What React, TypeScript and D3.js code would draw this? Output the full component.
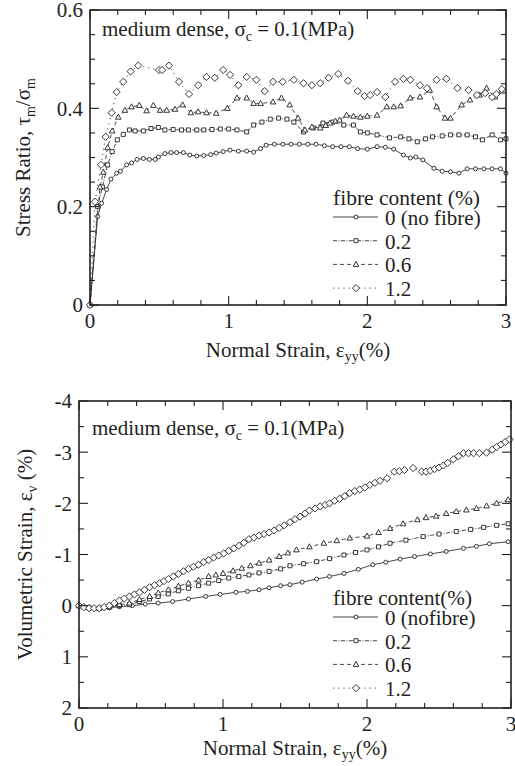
import React from 'react';
import * as d3 from 'd3';

type Pt = [number, number];

// ---- top panel: normal strain (%) vs stress ratio ----
const ratioFibre0: Pt[] = [
  [0, 0], [0.055, 0.18], [0.084, 0.207], [0.12, 0.235], [0.151, 0.256], [0.192, 0.268], [0.22, 0.272],
  [0.264, 0.285], [0.3, 0.289], [0.34, 0.296], [0.385, 0.298], [0.428, 0.296], [0.47, 0.296], [0.493, 0.301],
  [0.54, 0.308], [0.584, 0.31], [0.625, 0.31], [0.673, 0.31], [0.72, 0.305], [0.77, 0.303], [0.82, 0.304],
  [0.87, 0.306], [0.91, 0.309], [0.96, 0.312], [1.01, 0.315], [1.07, 0.313], [1.13, 0.313], [1.18, 0.311],
  [1.23, 0.318], [1.27, 0.325], [1.33, 0.327], [1.39, 0.327], [1.45, 0.327], [1.51, 0.327], [1.57, 0.327],
  [1.63, 0.327], [1.69, 0.324], [1.75, 0.322], [1.81, 0.322], [1.87, 0.322], [1.93, 0.318], [2.0, 0.317],
  [2.07, 0.322], [2.13, 0.321], [2.19, 0.317], [2.26, 0.305], [2.31, 0.299], [2.35, 0.301], [2.4, 0.295],
  [2.48, 0.278], [2.54, 0.272], [2.6, 0.271], [2.66, 0.268], [2.72, 0.277], [2.78, 0.277], [2.84, 0.277],
  [2.9, 0.277], [2.96, 0.277], [3.0, 0.268],
];
const ratioFibre02: Pt[] = [
  [0, 0], [0.055, 0.2], [0.089, 0.24], [0.127, 0.285], [0.16, 0.312], [0.197, 0.336], [0.24, 0.347],
  [0.284, 0.356], [0.325, 0.354], [0.385, 0.354], [0.44, 0.359], [0.493, 0.361], [0.54, 0.356], [0.6, 0.357],
  [0.66, 0.356], [0.71, 0.356], [0.77, 0.356], [0.82, 0.356], [0.88, 0.357], [0.94, 0.358], [1.0, 0.358],
  [1.06, 0.356], [1.13, 0.352], [1.18, 0.366], [1.24, 0.372], [1.3, 0.378], [1.36, 0.38], [1.42, 0.378],
  [1.47, 0.372], [1.54, 0.352], [1.61, 0.36], [1.68, 0.37], [1.75, 0.372], [1.83, 0.366], [1.9, 0.366],
  [1.95, 0.352], [2.0, 0.35], [2.07, 0.346], [2.16, 0.34], [2.24, 0.342], [2.3, 0.338], [2.36, 0.332],
  [2.42, 0.338], [2.47, 0.342], [2.54, 0.344], [2.6, 0.346], [2.66, 0.346], [2.72, 0.346], [2.78, 0.342],
  [2.83, 0.336], [2.9, 0.346], [2.96, 0.336], [3.0, 0.338],
];
const ratioFibre06: Pt[] = [
  [0, 0], [0.072, 0.24], [0.096, 0.27], [0.127, 0.32], [0.16, 0.354], [0.204, 0.382], [0.252, 0.396],
  [0.3, 0.403], [0.355, 0.406], [0.408, 0.395], [0.457, 0.406], [0.505, 0.396], [0.553, 0.396], [0.613, 0.398],
  [0.668, 0.407], [0.728, 0.391], [0.78, 0.393], [0.84, 0.391], [0.91, 0.39], [0.99, 0.4], [1.06, 0.421],
  [1.13, 0.421], [1.18, 0.41], [1.23, 0.41], [1.32, 0.413], [1.38, 0.421], [1.44, 0.407], [1.5, 0.38],
  [1.55, 0.356], [1.6, 0.362], [1.66, 0.36], [1.7, 0.365], [1.73, 0.37], [1.77, 0.374], [1.8, 0.376],
  [1.85, 0.386], [1.9, 0.384], [1.95, 0.382], [2.0, 0.384], [2.07, 0.386], [2.14, 0.403], [2.19, 0.403],
  [2.24, 0.405], [2.31, 0.421], [2.38, 0.423], [2.45, 0.437], [2.5, 0.403], [2.56, 0.38], [2.6, 0.38],
  [2.68, 0.407], [2.74, 0.417], [2.81, 0.427], [2.86, 0.441], [2.92, 0.423], [2.97, 0.435],
];
const ratioFibre12: Pt[] = [
  [0, 0], [0.036, 0.21], [0.079, 0.285], [0.113, 0.342], [0.156, 0.391], [0.192, 0.433], [0.24, 0.454],
  [0.293, 0.475], [0.348, 0.487], [0.497, 0.478], [0.52, 0.478], [0.57, 0.487], [0.642, 0.454], [0.714, 0.429],
  [0.78, 0.447], [0.84, 0.464], [0.9, 0.462], [0.96, 0.478], [1.01, 0.468], [1.07, 0.447], [1.13, 0.464],
  [1.2, 0.458], [1.26, 0.435], [1.32, 0.454], [1.39, 0.454], [1.47, 0.458], [1.54, 0.451], [1.6, 0.447],
  [1.66, 0.451], [1.72, 0.462], [1.79, 0.47], [1.86, 0.456], [1.93, 0.435], [1.98, 0.425], [2.02, 0.427],
  [2.07, 0.433], [2.13, 0.423], [2.2, 0.454], [2.26, 0.46], [2.31, 0.458], [2.38, 0.447], [2.43, 0.441],
  [2.5, 0.458], [2.57, 0.46], [2.65, 0.441], [2.73, 0.437], [2.79, 0.427], [2.85, 0.431], [2.9, 0.423],
  [2.93, 0.429], [2.97, 0.439],
];

// ---- bottom panel: normal strain (%) vs volumetric strain (%) ----
const volFibre0: Pt[] = [
  [0, 0], [0.07, 0.04], [0.14, 0.05], [0.21, 0.04], [0.28, 0.02], [0.37, 0.0], [0.46, -0.03], [0.55, -0.05],
  [0.65, -0.08], [0.76, -0.13], [0.88, -0.18], [0.98, -0.22], [1.09, -0.26], [1.17, -0.28], [1.25, -0.31],
  [1.32, -0.35], [1.4, -0.39], [1.465, -0.41], [1.55, -0.46], [1.65, -0.52], [1.74, -0.57], [1.84, -0.63],
  [1.94, -0.71], [2.04, -0.8], [2.13, -0.85], [2.23, -0.91], [2.33, -0.96], [2.44, -1.01], [2.55, -1.06],
  [2.67, -1.12], [2.76, -1.16], [2.85, -1.21], [2.98, -1.25],
];
const volFibre02: Pt[] = [
  [0, 0], [0.07, 0.04], [0.14, 0.05], [0.21, 0.03], [0.28, 0.0], [0.35, -0.02], [0.42, -0.08], [0.49, -0.13],
  [0.55, -0.18], [0.62, -0.23], [0.69, -0.29], [0.76, -0.34], [0.83, -0.39], [0.9, -0.44], [0.97, -0.49],
  [1.04, -0.54], [1.11, -0.57], [1.18, -0.6], [1.25, -0.64], [1.32, -0.67], [1.4, -0.72], [1.465, -0.78],
  [1.56, -0.82], [1.65, -0.86], [1.74, -0.92], [1.84, -0.99], [1.92, -1.04], [2.0, -1.09], [2.08, -1.15],
  [2.16, -1.22], [2.27, -1.28], [2.39, -1.35], [2.5, -1.4], [2.62, -1.45], [2.72, -1.49], [2.81, -1.53],
  [2.9, -1.57], [2.98, -1.6],
];
const volFibre06: Pt[] = [
  [0, 0], [0.07, 0.04], [0.14, 0.05], [0.21, 0.02], [0.28, -0.02], [0.35, -0.05], [0.42, -0.12], [0.49, -0.18],
  [0.55, -0.25], [0.62, -0.31], [0.69, -0.38], [0.76, -0.44], [0.83, -0.5], [0.9, -0.57], [0.95, -0.6],
  [1.0, -0.63], [1.07, -0.68], [1.13, -0.73], [1.19, -0.78], [1.25, -0.83], [1.32, -0.89], [1.39, -0.96],
  [1.45, -1.03], [1.51, -1.09], [1.6, -1.15], [1.7, -1.22], [1.79, -1.27], [1.88, -1.32], [2.0, -1.36],
  [2.08, -1.43], [2.16, -1.51], [2.25, -1.6], [2.35, -1.68], [2.41, -1.72], [2.48, -1.75], [2.55, -1.8],
  [2.62, -1.84], [2.69, -1.87], [2.76, -1.9], [2.83, -1.95], [2.9, -2.0], [2.98, -2.07],
];
const volFibre12: Pt[] = [
  [0, 0], [0.035, 0.03], [0.07, 0.05], [0.105, 0.05], [0.14, 0.05], [0.175, 0.03], [0.21, 0.0], [0.245, -0.05],
  [0.28, -0.1], [0.315, -0.14], [0.35, -0.18], [0.385, -0.22], [0.42, -0.26], [0.455, -0.31], [0.49, -0.36],
  [0.525, -0.4], [0.56, -0.44], [0.59, -0.48], [0.62, -0.52], [0.655, -0.57], [0.69, -0.62], [0.725, -0.67],
  [0.76, -0.72], [0.795, -0.76], [0.83, -0.8], [0.865, -0.85], [0.9, -0.89], [0.935, -0.94], [0.97, -0.98],
  [1.005, -1.02], [1.04, -1.07], [1.075, -1.12], [1.11, -1.17], [1.145, -1.23], [1.18, -1.3], [1.215, -1.33],
  [1.25, -1.37], [1.285, -1.4], [1.32, -1.43], [1.355, -1.47], [1.39, -1.52], [1.425, -1.57], [1.465, -1.63],
  [1.5, -1.69], [1.535, -1.74], [1.57, -1.8], [1.6, -1.86], [1.64, -1.9], [1.675, -1.94], [1.71, -1.97],
  [1.74, -2.0], [1.775, -2.05], [1.81, -2.09], [1.845, -2.14], [1.88, -2.2], [1.915, -2.24], [1.95, -2.27],
  [1.985, -2.31], [2.02, -2.36], [2.055, -2.4], [2.09, -2.44], [2.14, -2.49], [2.19, -2.62], [2.225, -2.63],
  [2.26, -2.65], [2.32, -2.69], [2.38, -2.62], [2.41, -2.62], [2.44, -2.64], [2.47, -2.67], [2.5, -2.7],
  [2.53, -2.74], [2.56, -2.79], [2.6, -2.86], [2.635, -2.92], [2.67, -2.98], [2.705, -2.98], [2.74, -2.98],
  [2.78, -2.98], [2.83, -2.99], [2.87, -3.05], [2.9, -3.1], [2.93, -3.15], [2.96, -3.2], [2.99, -3.25],
];

const strainTicks = [0, 1, 2, 3];
const ratioTicks = [0, 0.2, 0.4, 0.6];
const volTicks = [-4, -3, -2, -1, 0, 1, 2];
const legendTop = ['0 (no fibre)', '0.2', '0.6', '1.2'];
const legendBottom = ['0 (nofibre)', '0.2', '0.6', '1.2'];

const FONT = '"Liberation Serif", "Times New Roman", serif';
const INK = '#231f20';
const FS = 21;
const SUB = 14;

// one style per fibre content: line dash + marker shape
const seriesStyle = [
  { dash: undefined, marker: 'circle' },
  { dash: '4 1.5 1 1.5', marker: 'square' },
  { dash: '4 3', marker: 'triangle' },
  { dash: '1.2 4', marker: 'diamond' },
];

const markerD = (kind: string) => {
  if (kind === 'circle') return 'M2,0A2,2 0 1,1 -2,0A2,2 0 1,1 2,0Z';
  if (kind === 'square') return 'M-2,-2H2V2H-2Z';
  if (kind === 'triangle') return 'M0,-3L2.8,2H-2.8Z';
  return 'M0,-3.6L3.6,0L0,3.6L-3.6,0Z';
};

type PanelProps = {
  box: { left: number; top: number; right: number; bottom: number };
  yDomain: [number, number];
  yInverted: boolean;
  yTicks: number[];
  yMinor: number;
  series: Pt[][];
  legend: string[];
  legendTitle: string;
  legendTitleWidth: number;
  legendY: number;
  noteX: number;
  noteY: number;
  xLabelY: number;
  yLabelX: number;
  yLabel: React.ReactNode;
};

function Panel(props: PanelProps) {
  const { box, yDomain, yInverted, yTicks, yMinor, series, legend, legendTitle, legendTitleWidth,
    legendY, noteX, noteY, xLabelY, yLabelX, yLabel } = props;
  const x = d3.scaleLinear().domain([0, 3]).range([box.left, box.right]);
  const y = d3.scaleLinear().domain(yDomain).range(yInverted ? [box.top, box.bottom] : [box.bottom, box.top]);
  const line = d3.line<Pt>().x(d => x(d[0])).y(d => y(d[1]));
  const xMinor = d3.range(0, 3.0001, 0.2);
  const yMin = d3.range(yDomain[0], yDomain[1] + 1e-6, yMinor);
  const isMajorX = (v: number) => Math.abs(v - Math.round(v)) < 1e-6;
  const isMajorY = (v: number) => yTicks.some(t => Math.abs(t - v) < 1e-6);
  const cx = (box.left + box.right) / 2;
  const cy = (box.top + box.bottom) / 2;
  const lx = 333;

  return (
    <g fontFamily={FONT} fill={INK}>
      {series.map((pts, i) => (
        <g key={i}>
          <path d={line(pts) || ''} fill="none" stroke="#333" strokeWidth={0.9} strokeDasharray={seriesStyle[i].dash} />
          {pts.map((p, j) => (
            <path key={j} d={markerD(seriesStyle[i].marker)} transform={`translate(${x(p[0])},${y(p[1])})`}
              fill="#fff" stroke="#222" strokeWidth={0.9} />
          ))}
        </g>
      ))}

      {/* ticks, all pointing inward on four sides */}
      {xMinor.map((v, i) => {
        const len = isMajorX(v) ? 9 : 5;
        return (
          <g key={'xt' + i} stroke={INK} strokeWidth={1.1}>
            <line x1={x(v)} x2={x(v)} y1={box.bottom} y2={box.bottom - len} />
            <line x1={x(v)} x2={x(v)} y1={box.top} y2={box.top + len} />
          </g>
        );
      })}
      {yMin.map((v, i) => {
        const len = isMajorY(v) ? 9 : 5;
        return (
          <g key={'yt' + i} stroke={INK} strokeWidth={1.1}>
            <line x1={box.left} x2={box.left + len} y1={y(v)} y2={y(v)} />
            <line x1={box.right} x2={box.right - len} y1={y(v)} y2={y(v)} />
          </g>
        );
      })}
      <rect x={box.left} y={box.top} width={box.right - box.left} height={box.bottom - box.top}
        fill="none" stroke={INK} strokeWidth={1.6} />

      {strainTicks.map(v => (
        <text key={'xl' + v} x={x(v)} y={box.bottom + 23} textAnchor="middle" fontSize={FS}>{v}</text>
      ))}
      {yTicks.map(v => (
        <text key={'yl' + v} x={box.left - 7} y={y(v)} dy="0.35em" textAnchor="end" fontSize={FS}>{String(v)}</text>
      ))}

      <text x={cx} y={xLabelY} textAnchor="middle" fontSize={FS}>
        Normal Strain, ε<tspan dy={4} fontSize={SUB}>yy</tspan><tspan dy={-4}>(%)</tspan>
      </text>
      <text transform={`translate(${yLabelX},${cy}) rotate(-90)`} textAnchor="middle" fontSize={FS}>
        {yLabel}
      </text>

      <text x={noteX} y={noteY} fontSize={FS}>
        medium dense, σ<tspan dy={5} fontSize={SUB}>c</tspan><tspan dy={-5}> = 0.1(MPa)</tspan>
      </text>

      <text x={lx} y={legendY} fontSize={20} textLength={legendTitleWidth} lengthAdjust="spacingAndGlyphs">
        {legendTitle}
      </text>
      {legend.map((lab, i) => {
        const ly = legendY + 12 + i * 23.7;
        return (
          <g key={'lg' + i}>
            <line x1={lx} x2={lx + 45} y1={ly} y2={ly} stroke="#333" strokeWidth={0.9} strokeDasharray={seriesStyle[i].dash} />
            <path d={markerD(seriesStyle[i].marker)} transform={`translate(${lx + 23},${ly})`} fill="#fff" stroke="#222" strokeWidth={0.9} />
            <text x={lx + 52} y={ly + 8} fontSize={FS}>{lab}</text>
          </g>
        );
      })}
    </g>
  );
}

export default function App() {
  return (
    <svg width={515} height={766} style={{ display: 'block', position: 'absolute', left: 0, top: 0 }}>
      <rect width={515} height={766} fill="#fff" />
      <Panel
        box={{ left: 90, top: 10, right: 506, bottom: 305 }}
        yDomain={[0, 0.6]}
        yInverted={false}
        yTicks={ratioTicks}
        yMinor={0.05}
        series={[ratioFibre0, ratioFibre02, ratioFibre06, ratioFibre12]}
        legend={legendTop}
        legendTitle="fibre content (%)"
        legendTitleWidth={147}
        legendY={205}
        noteX={102}
        noteY={36}
        xLabelY={357}
        yLabelX={30}
        yLabel={<>Stress Ratio, τ<tspan dy={5} fontSize={SUB}>m</tspan><tspan dy={-5}>/σ</tspan><tspan dy={5} fontSize={SUB}>m</tspan></>}
      />
      <Panel
        box={{ left: 79, top: 401, right: 511, bottom: 708 }}
        yDomain={[-4, 2]}
        yInverted={true}
        yTicks={volTicks}
        yMinor={0.5}
        series={[volFibre0, volFibre02, volFibre06, volFibre12]}
        legend={legendBottom}
        legendTitle="fibre content(%)"
        legendTitleWidth={139}
        legendY={605}
        noteX={92}
        noteY={435}
        xLabelY={755}
        yLabelX={32}
        yLabel={<>Volumetric Strain, ε<tspan dy={5} fontSize={SUB}>v</tspan><tspan dy={-5}> (%)</tspan></>}
      />
    </svg>
  );
}
